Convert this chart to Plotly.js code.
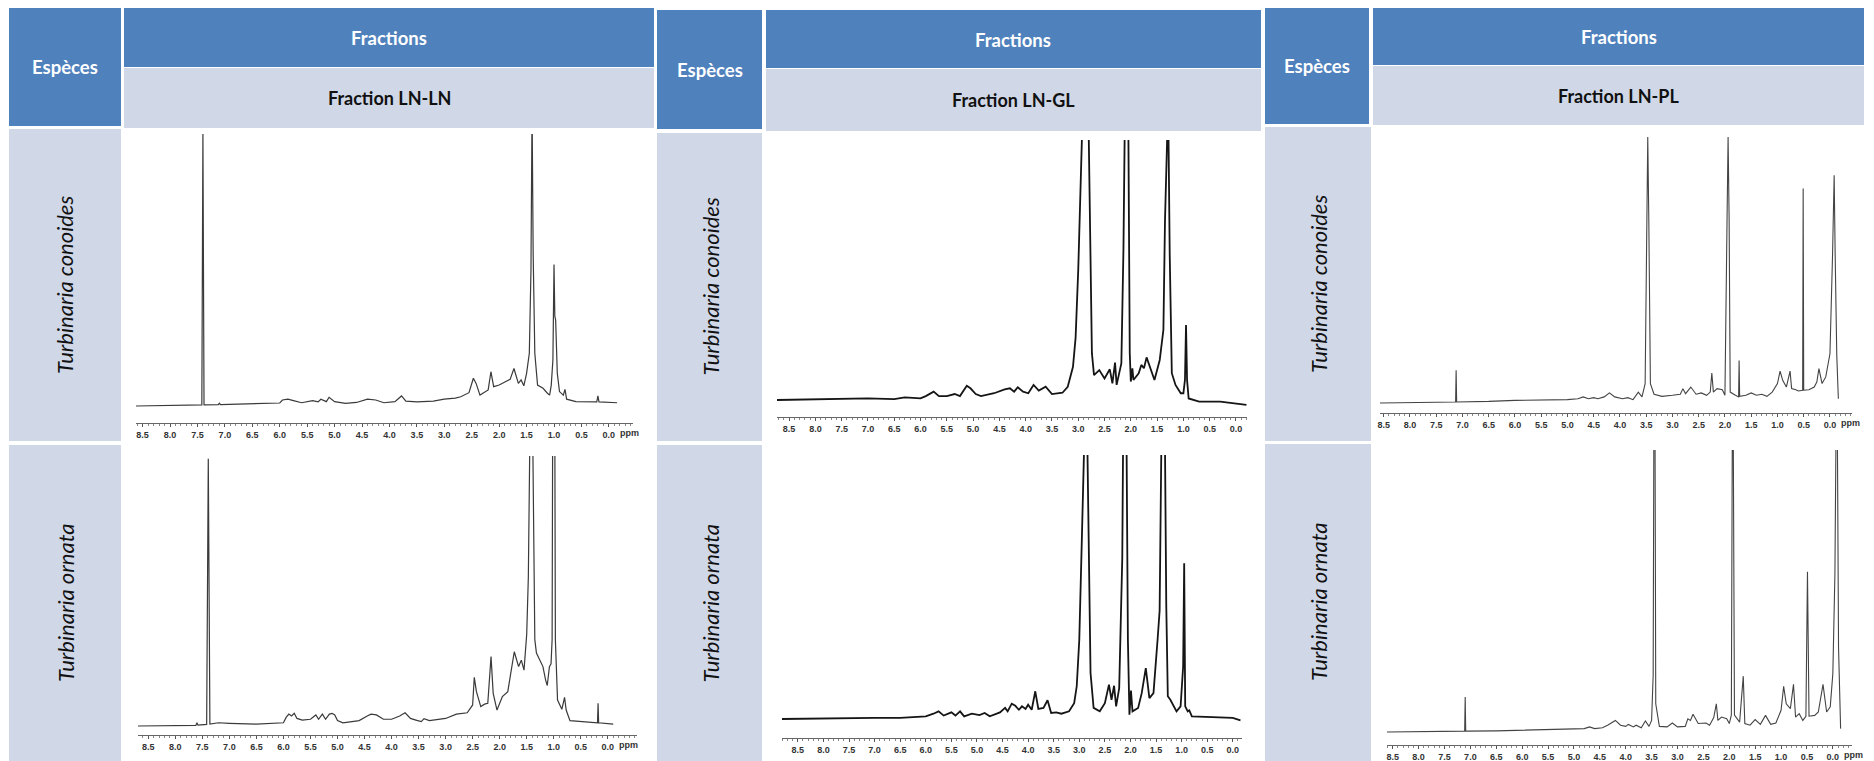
<!DOCTYPE html>
<html>
<head>
<meta charset="utf-8">
<script src="https://cdn.plot.ly/plotly-3.0.1.min.js"></script>
<style>html,body{margin:0;padding:0;background:#fff;}#chart{width:1874px;height:761px;}</style>
</head>
<body>
<div id="chart"></div>
<script>
// ---------- text ----------
const speciesHeader = 'Espèces';
const fractionsHeader = 'Fractions';
const fractionNames = ['Fraction LN-LN', 'Fraction LN-GL', 'Fraction LN-PL'];
const speciesNames = ['Turbinaria conoides', 'Turbinaria ornata'];
const ppmUnit = 'ppm';
const ppmTicks = [8.5,8.0,7.5,7.0,6.5,6.0,5.5,5.0,4.5,4.0,3.5,3.0,2.5,2.0,1.5,1.0,0.5,0.0];
const ppmTickLabels = ['8.5','8.0','7.5','7.0','6.5','6.0','5.5','5.0','4.5','4.0','3.5','3.0','2.5','2.0','1.5','1.0','0.5','0.0'];

// ---------- spectra (ppm, relative intensity; 0 = baseline, 100 = top of frame, >100 = off scale) ----------
// Fraction LN-LN, T. conoides
const ppm_LNLN_conoides = [8.62,8.0,7.5,7.42,7.40,7.38,7.12,7.10,7.08,6.5,6.0,5.95,5.85,5.75,5.6,5.4,5.3,5.25,5.15,5.1,5.05,5.0,4.8,4.6,4.4,4.25,4.1,3.9,3.78,3.7,3.5,3.2,3.0,2.8,2.7,2.55,2.47,2.42,2.35,2.28,2.2,2.15,2.1,2.0,1.9,1.8,1.73,1.65,1.6,1.55,1.5,1.45,1.42,1.40,1.38,1.35,1.3,1.2,1.12,1.08,1.05,1.02,1.0,0.985,0.97,0.94,0.9,0.83,0.8,0.77,0.6,0.22,0.2,0.18,-0.15];
const int_LNLN_conoides = [0,0.1,0.2,0.4,100,0.4,0.5,1.0,0.5,0.7,1.1,2.2,2.5,2.0,1.2,2.0,1.5,2.5,1.6,3.2,2.5,1.6,1.0,1.3,2.5,2.2,1.2,1.6,3.7,1.8,1.5,1.8,2.5,2.9,3.4,4.9,10.2,8.3,4.0,4.9,5.9,12.6,7.1,7.7,8.9,9.8,13.8,8.3,9.6,7.4,12,19.4,50,110,56,19.4,7.7,6.5,4.7,4.0,7.7,17,52,33,31.6,12,5.3,4.0,6.1,2.5,1.6,1.5,3.7,1.5,1.2];

// Fraction LN-LN, T. ornata
const ppm_LNLN_ornata = [8.69,7.8,7.62,7.6,7.58,7.42,7.39,7.36,7.2,7.0,6.5,6.0,5.95,5.9,5.85,5.8,5.75,5.65,5.5,5.4,5.35,5.28,5.22,5.15,5.1,5.05,5.0,4.9,4.6,4.45,4.38,4.28,4.15,4.0,3.85,3.75,3.65,3.55,3.45,3.4,3.3,3.0,2.8,2.6,2.5,2.47,2.43,2.35,2.28,2.22,2.16,2.12,2.05,1.95,1.85,1.8,1.73,1.65,1.6,1.55,1.5,1.47,1.45,1.44,1.39,1.37,1.35,1.32,1.25,1.2,1.15,1.12,1.08,1.05,1.03,1.02,0.98,0.97,0.93,0.85,0.8,0.77,0.7,0.3,0.19,0.18,0.17,-0.1];
const int_LNLN_ornata = [0,0.2,0.2,1.2,0.3,0.6,99,0.7,1.2,1.0,0.7,1.2,3.2,4.4,3.7,4.7,2.8,2.2,2.5,4.1,2.5,4.4,2.5,4.4,4.7,4.1,2.0,1.2,2.0,3.7,4.4,4.1,2.5,2.5,3.7,4.9,2.8,2.2,1.6,2.7,2.0,2.8,4.4,4.9,7.8,18,12.7,7.2,8.1,8.4,25.7,12.1,5.9,10.9,12.7,18.9,27.5,22,24.4,20.7,34,55,81,110,110,81,32,27,24,22,17,15,22,23,32,110,110,32,9.6,6.2,10.6,5.9,2.0,1.2,1.2,8.4,1.2,0.7];

// Fraction LN-GL, T. conoides
const ppm_LNGL_conoides = [8.73,8.0,7.0,6.5,6.3,6.0,5.9,5.75,5.65,5.5,5.35,5.25,5.12,5.05,4.95,4.85,4.6,4.4,4.3,4.22,4.15,4.05,3.95,3.85,3.75,3.62,3.5,3.3,3.2,3.1,3.05,3.0,2.95,2.91,2.81,2.78,2.74,2.7,2.6,2.5,2.4,2.35,2.3,2.27,2.22,2.18,2.14,2.11,2.05,2.02,2.0,1.97,1.95,1.85,1.8,1.75,1.7,1.62,1.55,1.45,1.38,1.35,1.32,1.29,1.26,1.22,1.15,1.05,1.0,0.97,0.95,0.93,0.9,0.7,0.3,0.0,-0.2];
const int_LNGL_conoides = [0,0.3,0.6,0.3,1.0,0.6,1.5,3.2,1.5,1.5,2.3,1.5,5.5,4.5,2.3,1.5,2.6,4.1,4.5,3.2,4.9,3.2,2.6,5.8,3.6,5.1,2.3,2.8,5.1,12.8,24,50,82,115,115,69,18,9.6,11.5,8.3,11.8,6.4,14.4,5.8,10.3,14.1,58,115,115,18,7.1,12.2,7.7,10.3,13.5,12.2,16.4,11.5,7.7,15.4,27,69,115,115,56,10.3,5.8,2.6,2.6,7.7,28.8,7.7,0.6,-0.6,-0.6,-1.3,-1.9];

// Fraction LN-GL, T. ornata
const ppm_LNGL_ornata = [8.81,8.0,7.0,6.5,6.0,5.85,5.75,5.65,5.5,5.42,5.33,5.25,5.1,4.95,4.85,4.75,4.55,4.45,4.4,4.32,4.25,4.18,4.12,4.05,4.0,3.93,3.86,3.8,3.7,3.62,3.55,3.45,3.35,3.2,3.1,3.05,3.0,2.95,2.89,2.85,2.82,2.78,2.72,2.6,2.5,2.42,2.37,2.32,2.28,2.22,2.16,2.14,2.08,2.05,2.02,1.99,1.96,1.85,1.78,1.7,1.63,1.55,1.47,1.43,1.39,1.33,1.3,1.27,1.22,1.1,1.02,0.97,0.95,0.93,0.88,0.85,0.8,0.5,0.2,0.0,-0.15];
const int_LNGL_ornata = [0,0.3,0.4,0.4,1.0,2.0,2.9,1.3,2.5,1.3,2.9,1.0,2.0,1.5,2.3,1.0,2.5,4.2,2.9,5.8,5.0,3.5,4.8,3.8,5.4,3.5,10.5,3.8,4.2,7.1,2.3,2.5,2.0,2.9,6.0,12.4,30,68,115,115,68,17.4,4.2,2.9,6.0,13,7.3,12.6,4.8,11.7,61,115,115,30,1.6,10.8,2.9,4.2,9.8,19.3,7.9,9.8,30,41,115,115,43,8.6,7.3,2.9,4.8,20,59,4.8,2.9,3.3,1.0,0.8,0.8,0.4,-0.5];

// Fraction LN-PL, T. conoides
const ppm_LNPL_conoides = [8.57,8.0,7.2,7.13,7.12,7.11,6.5,6.0,5.0,4.8,4.7,4.6,4.5,4.42,4.3,4.2,4.1,3.95,3.85,3.75,3.65,3.58,3.52,3.49,3.47,3.45,3.42,3.35,3.2,3.0,2.85,2.8,2.75,2.65,2.55,2.45,2.35,2.28,2.25,2.22,2.15,2.05,2.0,1.96,1.94,1.92,1.9,1.8,1.74,1.73,1.72,1.6,1.5,1.4,1.3,1.2,1.1,1.0,0.95,0.9,0.83,0.76,0.73,0.65,0.6,0.52,0.51,0.50,0.4,0.3,0.25,0.21,0.15,0.08,0.0,-0.05,-0.08,-0.1,-0.13,-0.16];
const int_LNPL_conoides = [0,0.1,0.25,0.4,12.3,0.4,0.6,1.0,1.25,1.6,2.3,1.6,2.0,1.6,2.3,3.8,2.3,1.6,2.0,1.25,4.1,2.3,7.3,68.7,100,68.7,7.3,3.3,2.5,2.9,3.3,5.4,3.5,6.0,3.3,3.8,2.9,4.1,11.3,4.1,5.4,5.0,2.9,68.7,100,68.7,4.1,2.9,2.3,16,2.5,2.9,3.8,2.9,3.3,2.5,4.1,7.3,12,8.5,6.0,12,5.4,5.0,4.5,4.8,80.6,4.8,5.0,6.0,7.9,12.9,7.3,9.8,18.5,56,85.6,55,18,1.6];

// Fraction LN-PL, T. ornata
const ppm_LNPL_ornata = [8.61,8.0,7.2,7.11,7.10,7.09,6.5,6.0,5.5,5.0,4.8,4.7,4.6,4.45,4.35,4.2,4.1,4.0,3.95,3.85,3.8,3.7,3.62,3.55,3.5,3.47,3.455,3.435,3.42,3.35,3.2,3.1,3.0,2.85,2.8,2.75,2.7,2.6,2.45,2.38,2.3,2.25,2.22,2.15,2.05,2.0,1.96,1.94,1.925,1.9,1.8,1.73,1.7,1.6,1.5,1.4,1.3,1.2,1.1,1.0,0.95,0.9,0.82,0.76,0.72,0.65,0.58,0.52,0.49,0.46,0.35,0.28,0.19,0.12,0.05,0.0,-0.04,-0.065,-0.085,-0.11,-0.15];
const int_LNPL_ornata = [0,0.1,0.2,0.3,12.4,0.3,0.4,0.6,0.8,1.0,1.2,1.8,1.2,1.5,2.4,4.1,2.4,2.0,2.7,1.8,2.4,1.5,3.9,2.0,4.1,20,115,115,10,2.0,1.8,3.2,1.8,2.0,4.7,4.1,6.3,3.0,3.2,2.4,5.1,10,4.1,5.3,4.7,3.0,6,115,115,6,3.5,19.8,3.0,2.4,4.4,2.7,5.9,2.7,3.2,7.7,16.2,10,8.3,16.9,5.3,6.5,4.1,5.6,56.8,5.6,5.9,7.1,16.9,7.1,8.9,20.7,56,115,115,30,1.2];

// ---------- layout helpers (pixel geometry) ----------
const W = 1874, H = 761;
const fx = p => p / W;
const fy = p => 1 - p / H;
const BLUE = '#4F81BD', LIGHT = '#D0D8E8';

const cells = [
  // table 1
  [9,8,121,126,BLUE],[124,8,654,67,BLUE],[124,68,654,128,LIGHT],[9,129,121,441,LIGHT],[9,445,121,761,LIGHT],
  // table 2
  [657,10,762,129,BLUE],[766,10,1261,68,BLUE],[766,69,1261,131,LIGHT],[657,133,762,441,LIGHT],[657,445,762,761,LIGHT],
  // table 3
  [1265,8,1369,124,BLUE],[1373,8,1864,65,BLUE],[1373,66,1864,125,LIGHT],[1265,127,1371,441,LIGHT],[1265,444,1371,761,LIGHT]
];
const shapes = cells.map(c => ({type:'rect', xref:'paper', yref:'paper', x0:fx(c[0]), x1:fx(c[2]), y0:fy(c[3]), y1:fy(c[1]), fillcolor:c[4], line:{width:0}, layer:'below'}));

const headFont = {family:'Lato, Noto Sans, sans-serif', size:18.5, color:'#ffffff', weight:'bold'};
const subFont = {family:'Lato, Noto Sans, sans-serif', size:18, color:'#111111', weight:'bold'};
const rowFont = {family:'Lato, Noto Sans, sans-serif', size:22, color:'#111111', style:'italic'};

const tables = [
  {esp:[65,67], fr:[389,38], sub:[389,98], rows:[[65,285],[65,603]]},
  {esp:[709.5,70], fr:[1013.5,40], sub:[1013.5,100], rows:[[709.5,287],[709.5,603]]},
  {esp:[1317,66], fr:[1618.5,37], sub:[1618.5,96], rows:[[1318,284],[1318,602]]}
];
const annotations = [];
tables.forEach((t,i) => {
  annotations.push({xref:'paper',yref:'paper',x:fx(t.esp[0]),y:fy(t.esp[1]),text:speciesHeader,showarrow:false,font:headFont,xanchor:'center',yanchor:'middle'});
  annotations.push({xref:'paper',yref:'paper',x:fx(t.fr[0]),y:fy(t.fr[1]),text:fractionsHeader,showarrow:false,font:headFont,xanchor:'center',yanchor:'middle'});
  annotations.push({xref:'paper',yref:'paper',x:fx(t.sub[0]),y:fy(t.sub[1]),text:fractionNames[i],showarrow:false,font:subFont,xanchor:'center',yanchor:'middle'});
  t.rows.forEach((r,j) => annotations.push({xref:'paper',yref:'paper',x:fx(r[0]),y:fy(r[1]),text:speciesNames[j],textangle:-90,showarrow:false,font:rowFont,xanchor:'center',yanchor:'middle'}));
});

// panels: pixel frame of each spectrum and its ppm span
const panels = [
  {x:ppm_LNLN_conoides, y:int_LNLN_conoides, left:136, right:633, pL:8.62, pR:-0.44, axisY:423, topY:134, baseY:406, color:'#3a3a3a', w:1.2, unit:true},
  {x:ppm_LNLN_ornata,   y:int_LNLN_ornata,   left:138, right:637, pL:8.69, pR:-0.54, axisY:735, topY:456, baseY:726, color:'#3a3a3a', w:1.2, unit:true},
  {x:ppm_LNGL_conoides, y:int_LNGL_conoides, left:777, right:1247, pL:8.73, pR:-0.21, axisY:417, topY:140, baseY:400, color:'#151515', w:1.8, unit:false},
  {x:ppm_LNGL_ornata,   y:int_LNGL_ornata,   left:782, right:1242, pL:8.81, pR:-0.18, axisY:738, topY:455, baseY:719, color:'#151515', w:1.8, unit:false},
  {x:ppm_LNPL_conoides, y:int_LNPL_conoides, left:1380, right:1852, pL:8.57, pR:-0.42, axisY:413, topY:137, baseY:403, color:'#444444', w:1.1, unit:true},
  {x:ppm_LNPL_ornata,   y:int_LNPL_ornata,   left:1387, right:1852, pL:8.61, pR:-0.37, axisY:745, topY:450, baseY:732, color:'#444444', w:1.1, unit:true}
];

const traces = [];
const layout = {
  width:W, height:H, margin:{l:0,r:0,t:0,b:0}, paper_bgcolor:'#ffffff', plot_bgcolor:'rgba(0,0,0,0)',
  showlegend:false, shapes:shapes, annotations:annotations
};
const tickFont = {family:'Liberation Sans, Arial, sans-serif', size:9, color:'#333333', weight:'bold'};
panels.forEach((p,i) => {
  const n = i===0 ? '' : String(i+1);
  traces.push({type:'scatter', mode:'lines', x:p.x, y:p.y, xaxis:'x'+n, yaxis:'y'+n, line:{color:p.color, width:p.w}, hoverinfo:'skip'});
  const yMin = -(p.axisY - p.baseY) / (p.baseY - p.topY) * 100;
  layout['xaxis'+n] = {
    domain:[fx(p.left), fx(p.right)], range:[p.pL, p.pR], anchor:'y'+n,
    tickmode:'array', tickvals:ppmTicks, ticktext:ppmTickLabels, ticks:'outside', ticklen:3, tickwidth:1, tickcolor:'#555',
    minor:{tickmode:'linear', tick0:0, dtick:0.1, ticks:'outside', ticklen:1.5, tickcolor:'#888', showgrid:false},
    showline:true, linecolor:'#666', linewidth:1, showgrid:false, zeroline:false, tickfont:tickFont, fixedrange:true
  };
  layout['yaxis'+n] = {domain:[fy(p.axisY), fy(p.topY)], range:[yMin, 100], anchor:'x'+n, visible:false, fixedrange:true};
  if (p.unit) {
    annotations.push({xref:'x'+n, yref:'y'+n+' domain', x:0, y:0, yanchor:'top', xanchor:'left', xshift:9, yshift:-3, text:ppmUnit, showarrow:false, font:tickFont});
  }
});

Plotly.newPlot('chart', traces, layout, {staticPlot:true, displayModeBar:false});
</script>
</body>
</html>
